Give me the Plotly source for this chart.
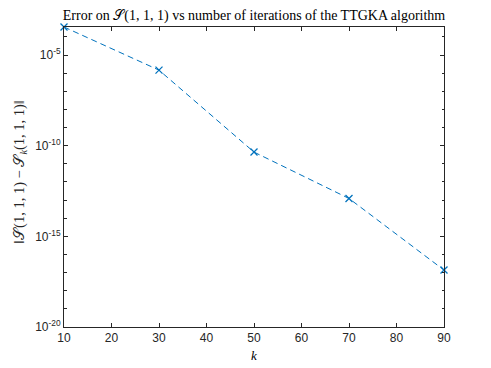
import numpy as np
import plotly.graph_objects as go

k_vals = [10, 30, 50, 70, 90]
err_log10 = [-3.45, -5.83, -10.35, -12.91, -16.86]
err_vals = [10 ** v for v in err_log10]

x_ticks = [10, 20, 30, 40, 50, 60, 70, 80, 90]
y_tick_exps = [-20, -15, -10, -5]
y_tick_text = ["10<sup>-20</sup>", "10<sup>-15</sup>", "10<sup>-10</sup>", "10<sup>-5</sup>"]

blue = "#0072BD"
axcol = "#262626"

fig = go.Figure()
fig.add_trace(go.Scatter(
    x=k_vals, y=err_vals, mode="lines+markers",
    line=dict(color=blue, width=1, dash="6px,4px"),
    marker=dict(symbol="x-thin", size=7, line=dict(color=blue, width=1.3), color=blue),
    cliponaxis=False, showlegend=False,
))

W, H = 491, 368
L, R, T, B = 64, 47, 27, 41

fig.update_layout(
    width=W, height=H,
    margin=dict(l=L, r=R, t=T, b=B, autoexpand=False),
    plot_bgcolor="white", paper_bgcolor="white",
    title=dict(
        text="Error on 𝒮(1, 1, 1) vs number of iterations of the TTGKA algorithm",
        x=(L + W - R) / 2 / W, xanchor="center", y=1 - 15 / H, yanchor="middle",
        font=dict(family="Liberation Serif, DejaVu Serif, serif", size=14, color="black"),
    ),
    font=dict(family="Liberation Sans, Arial, sans-serif", size=11, color=axcol),
    annotations=[
        dict(text="<i>k</i>", xref="paper", yref="paper", x=0.5, y=-(355 - (H - B)) / (H - T - B),
             xanchor="center", yanchor="middle", showarrow=False,
             font=dict(family="Liberation Serif, serif", size=13, color="black")),
        dict(text="‖𝒮(1, 1, 1) − 𝒮<sub><i>k</i></sub>(1, 1, 1)‖", xref="paper", yref="paper",
             x=-(L - 20) / (W - L - R), y=0.5 + 5 / (H - T - B), xanchor="center", yanchor="middle",
             textangle=-90, showarrow=False,
             font=dict(family="Liberation Serif, DejaVu Serif, serif", size=14.5, color=axcol)),
    ],
)

fig.update_xaxes(
    range=[10, 90], tickmode="array", tickvals=x_ticks, automargin=False,
    ticks="inside", ticklen=4, tickcolor=axcol,
    showline=True, linecolor=axcol, linewidth=1, mirror="allticks",
    showgrid=False, zeroline=False,
    tickfont=dict(size=12, color=axcol),
)

fig.update_yaxes(
    type="log", range=[-20, err_log10[0]], automargin=False,
    tickmode="array", tickvals=[10 ** e for e in y_tick_exps], ticktext=y_tick_text,
    ticks="inside", ticklen=4, tickcolor=axcol,
    minor=dict(tickmode="linear", tick0=0, dtick=1, ticks="inside", ticklen=2.5, tickcolor=axcol),
    showline=True, linecolor=axcol, linewidth=1, mirror="allticks",
    showgrid=False, zeroline=False,
    tickfont=dict(size=12, color=axcol),
)

fig.write_html("out.html", config={"displayModeBar": False},
               post_script="document.body.style.margin='0';document.body.style.overflow='hidden';")
